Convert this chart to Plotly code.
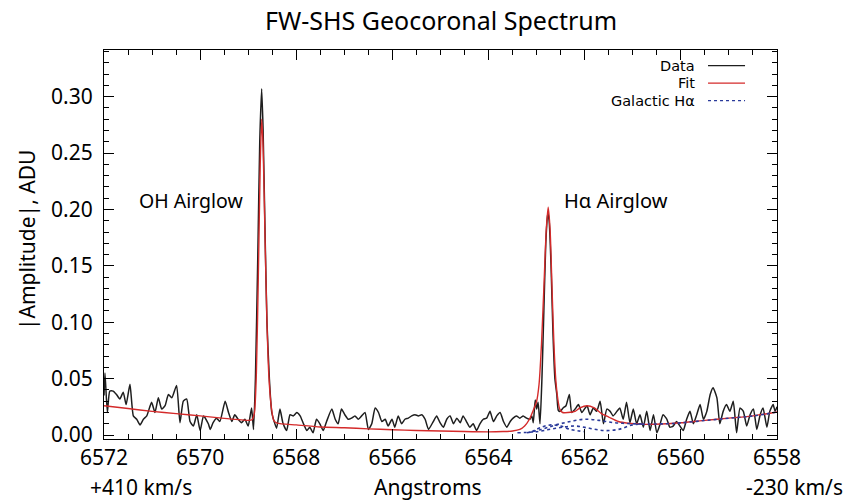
import plotly.graph_objects as go

# ---------------- data ----------------
data_wl = [6572.00, 6571.98, 6571.93, 6571.88, 6571.81, 6571.74, 6571.67, 6571.60, 6571.54, 6571.46,
           6571.39, 6571.32, 6571.25, 6571.18, 6571.11, 6571.01, 6570.94, 6570.87, 6570.80, 6570.73,
           6570.66, 6570.59, 6570.49, 6570.42, 6570.35, 6570.28, 6570.21, 6570.14, 6570.07, 6570.00,
           6569.93, 6569.83, 6569.79, 6569.73, 6569.66, 6569.59, 6569.48, 6569.41, 6569.34, 6569.28,
           6569.21, 6569.14, 6569.07, 6569.00, 6568.93, 6568.89, 6568.85, 6568.80, 6568.76, 6568.72,
           6568.69, 6568.65, 6568.61, 6568.56, 6568.51, 6568.46, 6568.41, 6568.34, 6568.28, 6568.20,
           6568.13, 6568.06, 6567.99, 6567.92, 6567.85, 6567.78, 6567.72, 6567.65, 6567.58, 6567.51,
           6567.44, 6567.37, 6567.26, 6567.19, 6567.13, 6567.06, 6566.99, 6566.92, 6566.85, 6566.78,
           6566.71, 6566.64, 6566.57, 6566.50, 6566.43, 6566.36, 6566.29, 6566.22, 6566.15, 6566.09,
           6566.01, 6565.95, 6565.88, 6565.81, 6565.74, 6565.67, 6565.60, 6565.53, 6565.46, 6565.39,
           6565.32, 6565.25, 6565.15, 6565.08, 6565.01, 6564.94, 6564.87, 6564.80, 6564.73, 6564.66,
           6564.59, 6564.53, 6564.46, 6564.39, 6564.32, 6564.25, 6564.18, 6564.11, 6564.04, 6563.97,
           6563.90, 6563.83, 6563.76, 6563.69, 6563.62, 6563.55, 6563.49, 6563.42, 6563.35, 6563.28,
           6563.21, 6563.14, 6563.10, 6563.07, 6563.03, 6563.00, 6562.97, 6562.93, 6562.89, 6562.85,
           6562.81, 6562.77, 6562.74, 6562.70, 6562.66, 6562.62, 6562.58, 6562.55, 6562.51, 6562.45,
           6562.39, 6562.32, 6562.27, 6562.20, 6562.13, 6562.06, 6561.99, 6561.95, 6561.89, 6561.82,
           6561.75, 6561.68, 6561.61, 6561.54, 6561.47, 6561.41, 6561.33, 6561.27, 6561.20, 6561.13,
           6561.06, 6560.99, 6560.92, 6560.85, 6560.78, 6560.71, 6560.64, 6560.57, 6560.50, 6560.43,
           6560.37, 6560.29, 6560.23, 6560.16, 6560.09, 6560.02, 6559.95, 6559.88, 6559.81, 6559.74,
           6559.67, 6559.60, 6559.53, 6559.46, 6559.39, 6559.33, 6559.25, 6559.19, 6559.12, 6559.05,
           6558.98, 6558.91, 6558.84, 6558.77, 6558.70, 6558.63, 6558.56, 6558.49, 6558.42, 6558.35,
           6558.29, 6558.21, 6558.15, 6558.08, 6558.04, 6558.00]
data_amp = [0.035, 0.055, 0.020, 0.039, 0.039, 0.036, 0.032, 0.038, 0.027, 0.045,
            0.017, 0.014, 0.009, 0.014, 0.017, 0.029, 0.020, 0.033, 0.023, 0.026,
            0.036, 0.033, 0.044, 0.011, 0.030, 0.032, 0.012, 0.008, 0.018, 0.004,
            0.017, 0.010, 0.005, 0.011, 0.015, 0.012, 0.030, 0.020, 0.012, 0.018,
            0.014, 0.011, 0.014, 0.008, 0.024, 0.005, 0.050, 0.160, 0.260, 0.307,
            0.270, 0.180, 0.100, 0.050, 0.020, 0.012, 0.006, 0.023, 0.011, 0.004,
            0.018, 0.017, 0.020, 0.017, 0.010, 0.004, 0.007, 0.002, 0.014, 0.010,
            0.004, 0.012, 0.023, 0.014, 0.010, 0.023, 0.018, 0.014, 0.015, 0.017,
            0.014, 0.017, 0.020, 0.005, 0.010, 0.024, 0.020, 0.012, 0.014, 0.008,
            0.014, 0.007, 0.017, 0.010, 0.014, 0.015, 0.017, 0.018, 0.017, 0.018,
            0.014, 0.005, 0.012, 0.017, 0.011, 0.007, 0.014, 0.017, 0.010, 0.015,
            0.011, 0.017, 0.012, 0.007, 0.010, 0.004, 0.010, 0.014, 0.015, 0.021,
            0.012, 0.017, 0.020, 0.012, 0.007, 0.012, 0.015, 0.017, 0.015, 0.017,
            0.015, 0.014, 0.017, 0.011, 0.031, 0.023, 0.029, 0.010, 0.050, 0.110,
            0.170, 0.197, 0.190, 0.150, 0.090, 0.050, 0.036, 0.022, 0.021, 0.024,
            0.026, 0.036, 0.020, 0.023, 0.027, 0.020, 0.024, 0.026, 0.018, 0.024,
            0.021, 0.030, 0.010, 0.023, 0.021, 0.017, 0.021, 0.024, 0.014, 0.029,
            0.011, 0.023, 0.010, 0.018, 0.007, 0.021, 0.004, 0.018, 0.002, 0.010,
            0.018, 0.014, 0.007, 0.008, 0.012, 0.008, 0.004, 0.014, 0.021, 0.010,
            0.018, 0.027, 0.014, 0.021, 0.036, 0.042, 0.033, 0.010, 0.021, 0.027,
            0.021, 0.030, 0.002, 0.024, 0.021, 0.008, 0.018, 0.023, 0.005, 0.018,
            0.024, 0.007, 0.021, 0.027, 0.021, 0.025]

fit_wl = [6572.0, 6571.5, 6571.0, 6570.5, 6570.0, 6569.5, 6569.0, 6568.92, 6568.87, 6568.83,
          6568.79, 6568.75, 6568.72, 6568.69, 6568.65, 6568.61, 6568.57, 6568.52, 6568.47, 6568.40,
          6568.0, 6567.5, 6567.0, 6566.5, 6566.0, 6565.5, 6565.0, 6564.5, 6564.0, 6563.7,
          6563.5, 6563.35, 6563.25, 6563.15, 6563.07, 6563.00, 6562.95, 6562.90, 6562.85, 6562.80,
          6562.76, 6562.72, 6562.68, 6562.64, 6562.60, 6562.56, 6562.52, 6562.46, 6562.35, 6562.20,
          6562.10, 6561.95, 6561.80, 6561.65, 6561.50, 6561.30, 6561.10, 6560.90, 6560.70, 6560.40,
          6560.00, 6559.50, 6559.00, 6558.50, 6558.00]
fit_amp = [0.026, 0.0235, 0.021, 0.019, 0.017, 0.0148, 0.013, 0.0135, 0.020, 0.055,
           0.140, 0.240, 0.280, 0.255, 0.175, 0.100, 0.052, 0.025, 0.013, 0.0105,
           0.009, 0.0072, 0.0065, 0.0055, 0.0047, 0.0041, 0.0036, 0.0031, 0.0028, 0.0031,
           0.0036, 0.005, 0.008, 0.014, 0.022, 0.030, 0.045, 0.080, 0.130, 0.182,
           0.202, 0.182, 0.130, 0.080, 0.048, 0.032, 0.023, 0.020, 0.020, 0.021,
           0.024, 0.026, 0.024, 0.019, 0.016, 0.012, 0.0105, 0.010, 0.0095, 0.0098,
           0.0109, 0.0130, 0.0150, 0.0170, 0.0205]

# Galactic H-alpha components (dotted)
gal1_wl = [6563.4, 6563.0, 6562.6, 6562.2, 6561.9, 6561.6, 6561.3, 6561.0, 6560.7, 6560.3,
           6560.0, 6559.5, 6559.0, 6558.5, 6558.0]
gal1_amp = [0.002, 0.003, 0.006, 0.008, 0.006, 0.004, 0.005, 0.009, 0.0097, 0.0100,
            0.0108, 0.0129, 0.0149, 0.0169, 0.0204]
gal2_wl = [6563.2, 6562.9, 6562.6, 6562.3, 6562.0, 6561.7, 6561.4, 6561.1, 6560.8]
gal2_amp = [0.002, 0.005, 0.009, 0.012, 0.014, 0.013, 0.011, 0.0102, 0.0098]
gal3_wl = [6563.1, 6562.9, 6562.7, 6562.5, 6562.3, 6562.0]
gal3_amp = [0.003, 0.007, 0.009, 0.008, 0.005, 0.003]

x_ticks = [6572, 6570, 6568, 6566, 6564, 6562, 6560, 6558]
y_ticks = [0.00, 0.05, 0.10, 0.15, 0.20, 0.25, 0.30]

FONT = "Noto Sans"
LEG_FONT = "DejaVu Sans"
DATA_C = "#1e1e1e"
FIT_C = "#d42a2a"
GAL_C = "#2a3a9a"

fig = go.Figure()
fig.add_trace(go.Scatter(x=data_wl, y=data_amp, mode="lines", name="Data",
                         line=dict(color=DATA_C, width=1.5, shape="spline", smoothing=0.5)))
fig.add_trace(go.Scatter(x=fit_wl, y=fit_amp, mode="lines", name="Fit",
                         line=dict(color=FIT_C, width=1.4, shape="spline", smoothing=0.6)))
for gw, ga in [(gal1_wl, gal1_amp), (gal2_wl, gal2_amp), (gal3_wl, gal3_amp)]:
    fig.add_trace(go.Scatter(x=gw, y=ga, mode="lines", name="Galactic Hα",
                             line=dict(color=GAL_C, width=1.6, dash="dot", shape="spline")))

axis_common = dict(showline=True, linecolor="black", linewidth=1.2, mirror="allticks",
                   ticks="inside", tickcolor="black", showgrid=False, zeroline=False,
                   tickfont=dict(family=FONT, size=21, color="black"))

fig.update_xaxes(range=[6572, 6558], tickvals=x_ticks, ticklen=10,
                 minor=dict(dtick=0.5, tick0=6558, ticks="inside", ticklen=5, tickcolor="black"),
                 **axis_common)
fig.update_yaxes(range=[-0.0035, 0.3414], tickvals=y_ticks, tickformat=".2f", ticklen=10,
                 ticklabelstandoff=6,
                 minor=dict(dtick=0.01, tick0=0, ticks="inside", ticklen=5, tickcolor="black"),
                 **axis_common)

ann = []
txt = dict(family=FONT, color="black")
ann.append(dict(text="FW-SHS Geocoronal Spectrum", xref="paper", yref="paper", x=0.5, y=1.0,
                yshift=30, showarrow=False, font=dict(size=25, **txt), xanchor="center", yanchor="middle"))
ann.append(dict(text="Angstroms", xref="paper", yref="paper", x=0.481, y=-0.123, showarrow=False,
                font=dict(size=21, **txt), xanchor="center", yanchor="middle"))
ann.append(dict(text="+410 km/s", xref="paper", yref="paper", x=-0.024, y=-0.123, showarrow=False,
                font=dict(size=21, **txt), xanchor="left", yanchor="middle"))
ann.append(dict(text="-230 km/s", xref="paper", yref="paper", x=1.101, y=-0.123, showarrow=False,
                font=dict(size=21, **txt), xanchor="right", yanchor="middle"))
ann.append(dict(text="|Amplitude|, ADU", xref="paper", yref="paper", x=-0.114, y=0.512,
                textangle=-90, showarrow=False, font=dict(size=21, **txt),
                xanchor="center", yanchor="middle"))
ann.append(dict(text="OH Airglow", xref="x", yref="y", x=6570.17, y=0.208, showarrow=False,
                font=dict(size=19.5, **txt), xanchor="center", yanchor="middle"))
ann.append(dict(text="Hα Airglow", xref="x", yref="y", x=6561.35, y=0.208, showarrow=False,
                font=dict(size=20, **txt), xanchor="center", yanchor="middle"))

# manual legend (text right-aligned, sample line at right)
legend_items = [("Data", DATA_C, "solid", 0.960), ("Fit", FIT_C, "solid", 0.915),
                ("Galactic Hα", GAL_C, "dot", 0.870)]
shapes = []
for label, col, dash, yy in legend_items:
    ann.append(dict(text=label, xref="paper", yref="paper", x=0.881, y=yy, showarrow=False,
                    font=dict(size=14.5, family=LEG_FONT, color="black"),
                    xanchor="right", yanchor="middle"))
    shapes.append(dict(type="line", xref="paper", yref="paper", x0=0.8975, x1=0.9525, y0=yy, y1=yy,
                       line=dict(color=col, width=1.3, dash=dash)))

fig.update_layout(width=849, height=501, margin=dict(l=104, r=72, t=50, b=62),
                  paper_bgcolor="white", plot_bgcolor="white", showlegend=False,
                  annotations=ann, shapes=shapes, font=dict(family=FONT))

fig.write_html("out.html")
